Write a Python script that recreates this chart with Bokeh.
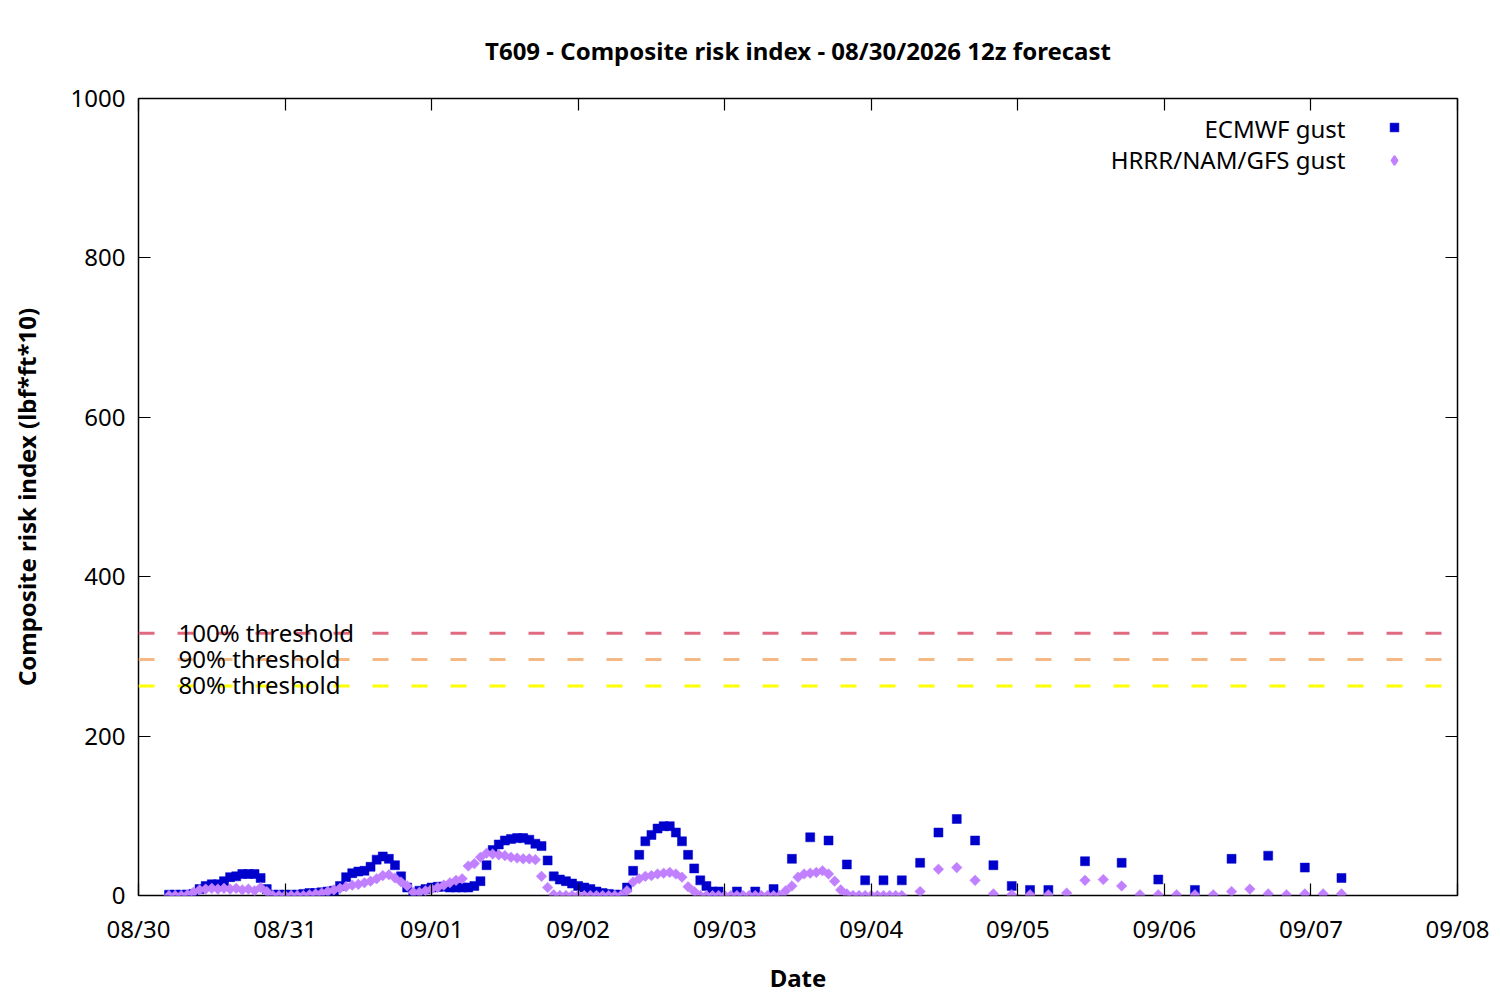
import numpy as np
from bokeh.plotting import figure
from bokeh.models import (Span, Label, LinearAxis, FixedTicker, Range1d,
                          Legend, LegendItem, ColumnDataSource)
from bokeh.embed import file_html
from bokeh.resources import INLINE

# ---------------- data ----------------
TITLE = "T609 - Composite risk index - 08/30/2026 12z forecast"
X_LABEL = "Date"
Y_LABEL = "Composite risk index (lbf*ft*10)"
DATE_TICK_LABELS = ["08/30", "08/31", "09/01", "09/02", "09/03",
                    "09/04", "09/05", "09/06", "09/07", "09/08"]
Y_TICKS = [0, 200, 400, 600, 800, 1000]
RUN_START_HOUR = 5  # 12z run start = 05:00 local on 08/30

ecmwf_name = "ECMWF gust"
ecmwf_hours = list(range(0, 91)) + list(range(93, 142, 3)) + list(range(144, 193, 6))
ecmwf_values = [
    1, 1, 1, 1, 2,
    8, 12, 14, 14, 18, 23, 24, 27, 27, 27, 22, 8,
    1, 1, 1, 1, 1, 2, 3, 3, 4, 5, 6, 12, 23,
    28, 30, 31, 36, 45, 49, 46, 38, 24, 10, 3,
    6, 8, 10, 11, 11, 10, 10, 10, 10, 12, 18,
    38, 57, 64, 69, 71, 72, 72, 70, 65, 62, 44,
    24, 20, 18, 15, 12, 10, 8, 5, 3, 2, 1, 1,
    10, 31, 51, 68, 76, 84, 87, 87, 79, 68, 51, 34, 19, 12, 5, 5,
    # 3-hourly
    5, 5, 8, 46, 73, 69, 39, 19, 19, 19, 41, 79, 96, 69, 38, 12, 7,
    # 6-hourly
    7, 43, 41, 20, 7, 46, 50, 35, 22,
]

hrrr_name = "HRRR/NAM/GFS gust"
hrrr_hours = list(range(0, 121)) + list(range(123, 193, 3))
hrrr_values = [
    0, 0, 0, 1, 4, 7, 8, 9, 8, 9, 8, 9, 7, 8, 6, 10, 5,
    0, 0, 0, 0, 0, 0, 1, 2, 3,
    5, 7, 9, 11, 13, 14, 16, 18, 21, 25, 26, 22, 17, 12, 4,
    4, 6, 8, 10, 13, 16, 19, 21, 37, 40, 48, 53, 52, 51, 50, 48, 47, 46, 46, 45, 24, 10, 1,
    0, 0, 0, 0, 0, 0, 0, 0, 0, 0, 0,
    6, 17, 21, 24, 25, 27, 28, 29, 27, 23, 11, 5,
    0, 0, 0, 0, 0, 0, 0, 0, 0, 0, 0, 0, 0, 0,
    6, 12, 23, 27, 28, 29, 31, 27, 18, 7, 2,
    0, 0, 0, 0, 0, 0, 0, 0, 0,
    # 3-hourly
    5, 33, 35, 19, 2, 1, 1, 1, 3, 19, 20, 12, 1, 1, 1, 1, 1, 5, 8, 2, 1, 2, 2, 2,
]

threshold_labels = ["100% threshold", "90% threshold", "80% threshold"]
threshold_values = [329, 296, 263]
threshold_colors = ["#e06a80", "#f5b985", "#ffff00"]

# ---------------- plot ----------------
FONT = "Noto Sans"
FS = "24px"
E_COLOR = "#0000cd"
H_COLOR = "#c080ff"

def to_days(hours):
    return [(RUN_START_HOUR + h) / 24.0 for h in hours]

p = figure(frame_width=1319, frame_height=797,
           x_range=Range1d(0, len(DATE_TICK_LABELS) - 1), y_range=Range1d(0, 1000),
           output_backend="svg", toolbar_location=None,
           min_border_left=138, min_border_right=35, min_border_top=98, min_border_bottom=97,
           background_fill_color="white", border_fill_color="white")

p.grid.visible = False
p.outline_line_color = "black"
p.outline_line_width = 1.5

p.title.text = TITLE
p.title.align = "center"
p.title.text_font = FONT
p.title.text_font_size = FS
p.title.text_font_style = "bold"
p.title.text_color = "black"
p.title.standoff = 63

xticks = list(range(len(DATE_TICK_LABELS)))
xa = p.xaxis[0]
xa.ticker = FixedTicker(ticks=xticks)
xa.major_label_overrides = {i: lab for i, lab in enumerate(DATE_TICK_LABELS)}
ya = p.yaxis[0]
ya.ticker = FixedTicker(ticks=Y_TICKS)

for ax in (xa, ya):
    ax.axis_line_color = None
    ax.major_tick_in = 12
    ax.major_tick_out = 0
    ax.minor_tick_line_color = None
    ax.major_tick_line_color = "black"
    ax.major_tick_line_width = 1.2
    ax.major_label_text_font = FONT
    ax.major_label_text_font_size = FS
    ax.major_label_text_color = "black"
    ax.axis_label_text_font = FONT
    ax.axis_label_text_font_size = FS
    ax.axis_label_text_font_style = "bold"
    ax.axis_label_text_color = "black"

xa.axis_label = X_LABEL
xa.major_label_standoff = 16
xa.axis_label_standoff = 13
ya.axis_label = Y_LABEL
ya.major_label_standoff = 13
ya.axis_label_standoff = 25

# mirror ticks
top = LinearAxis(ticker=FixedTicker(ticks=xticks))
right = LinearAxis(ticker=FixedTicker(ticks=Y_TICKS))
for ax in (top, right):
    ax.axis_line_color = None
    ax.major_tick_in = 12
    ax.major_tick_out = 0
    ax.minor_tick_line_color = None
    ax.major_tick_line_color = "black"
    ax.major_tick_line_width = 1.2
    ax.major_label_text_font_size = "0px"
    ax.major_label_standoff = 0
top.major_label_overrides = {t: "" for t in xticks}
right.major_label_overrides = {t: "" for t in Y_TICKS}
p.add_layout(top, "above")
p.add_layout(right, "right")

# thresholds
for lab, v, c in zip(threshold_labels, threshold_values, threshold_colors):
    p.add_layout(Span(location=v, dimension="width", line_color=c,
                      line_width=3, line_dash="16 23"))
    p.add_layout(Label(x=40, x_units="screen", y=v, y_units="data", y_offset=1,
                       text=lab, text_font=FONT, text_font_size=FS,
                       text_color="black", text_baseline="alphabetic",
                       text_align="left"))

# data
src_e = ColumnDataSource(dict(x=to_days(ecmwf_hours), y=ecmwf_values))
src_h = ColumnDataSource(dict(x=to_days(hrrr_hours), y=hrrr_values))
r_e = p.scatter("x", "y", source=src_e, marker="square", size=9,
                fill_color=E_COLOR, line_color=E_COLOR, line_width=0.5)
r_h = p.scatter("x", "y", source=src_h, marker="square", angle=np.pi / 4, size=7.5,
                fill_color=H_COLOR, line_color=H_COLOR, line_width=0.5)
# legend key for the diamond series (no visible point; only used by the legend)
key_h = p.scatter(x=[np.nan], y=[np.nan], marker="diamond", size=10,
                  fill_color=H_COLOR, line_color=H_COLOR, line_width=2)

legend = Legend(items=[LegendItem(label=" ", renderers=[r_e]),
                       LegendItem(label=" ", renderers=[key_h])],
                location=(1245, 724), glyph_width=22, glyph_height=22,
                label_height=22, spacing=11, padding=0, margin=0,
                border_line_color=None, background_fill_alpha=0,
                label_text_font_size="1px", label_standoff=0, label_width=1)
p.add_layout(legend)

p.add_layout(Label(x=1207, x_units="screen", y=767, y_units="screen", text=ecmwf_name,
                   text_font=FONT, text_font_size=FS, text_color="black",
                   text_align="right", text_baseline="alphabetic"))
p.add_layout(Label(x=1207, x_units="screen", y=736, y_units="screen", text=hrrr_name,
                   text_font=FONT, text_font_size=FS, text_color="black",
                   text_align="right", text_baseline="alphabetic"))

open("out.html", "w").write(file_html(p, INLINE))
